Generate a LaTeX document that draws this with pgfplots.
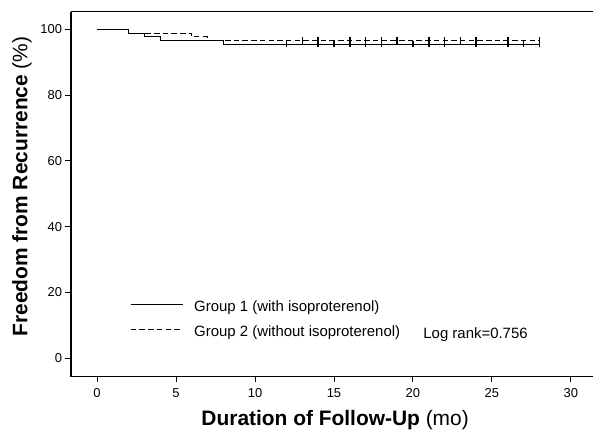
\documentclass[border=0pt]{standalone}
\usepackage{fontspec}
\setmainfont{Liberation Sans}
\usepackage{pgfplots}
\pgfplotsset{compat=1.18}

% censored observations (months)
\pgfplotstableread{
t   s
12  95.5
14  95.5
15  95.5
16  95.5
17  95.5
18  95.5
20  95.5
21  95.5
22  95.5
24  95.5
26  95.5
27  95.5
28  95.5
}\censorA
\pgfplotstableread{
t   s
13  96.6
14  96.6
16  96.6
17  96.6
18  96.6
19  96.6
21  96.6
22  96.6
23  96.6
24  96.6
26  96.6
28  96.6
}\censorB

\begin{document}
\begin{tikzpicture}
\begin{axis}[
    name=ax,
    scale only axis,
    width=522bp, height=365bp,
    at={(0,0)}, anchor=south west,
    xmin=-1.65, xmax=31.4,
    ymin=-5.6, ymax=105.35,
    axis lines=left,
    axis line style={-, line width=1.4bp},
    xtick={0,5,...,30},
    ytick={0,20,...,100},
    tick align=outside,
    major tick length=5.5bp,
    tick style={line width=0.9bp, black},
    tick label style={font=\fontsize{13}{15}\selectfont},
    xticklabel style={yshift=-3bp},
    /pgf/number format/assume math mode=true,
    xlabel={\textbf{Duration of Follow-Up} (mo)},
    ylabel={\textbf{Freedom from Recurrence} (\%)},
    xlabel style={font=\fontsize{21}{24}\selectfont, at={(axis description cs:0.506,-0.12)}, anchor=center},
    ylabel style={font=\fontsize{21}{24}\selectfont, at={(axis description cs:-0.094,0.521)}, anchor=center},
    legend image code/.code={\draw[#1] (0bp,0.35em) -- (52bp,0.35em);},
    legend cell align=left,
    legend style={draw=none, fill=none, font=\fontsize{15}{17}\selectfont,
        at={(axis cs:2.09,11.5)}, anchor=west, inner sep=0pt,
        nodes={inner sep=0pt, text height=11bp, text depth=3.5bp},
        column sep=11bp, row sep=10bp},
]
\addplot[const plot, black, line width=0.9bp] coordinates {
    (0,100) (2,98.8) (3,97.7) (4,96.75) (8,95.5) (28,95.5)};
\addlegendentry{Group 1 (with isoproterenol)}
\addplot[const plot, black, line width=0.9bp, dash pattern=on 5.5bp off 3.2bp] coordinates {
    (0,100) (2,98.8) (6,97.7) (7,96.6) (28,96.6)};
\addlegendentry{Group 2 (without isoproterenol)}
\addplot[forget plot, only marks, mark=|, mark size=3.2bp, mark options={line width=1.6bp, black}]
    table[x=t, y=s] {\censorA};
\addplot[forget plot, only marks, mark=|, mark size=3.2bp, mark options={line width=1.6bp, black}]
    table[x=t, y=s] {\censorB};
\node[anchor=base west, font=\fontsize{15}{17}\selectfont, inner sep=0pt] at (axis cs:20.65,6.08) {Log rank=0.756};
\end{axis}
\draw[line width=1.4bp] (ax.north west) -- (ax.north east);
\pgfresetboundingbox
\path[use as bounding box] (-71bp,-53.3bp) rectangle (522bp,376.7bp);
\end{tikzpicture}
\end{document}
